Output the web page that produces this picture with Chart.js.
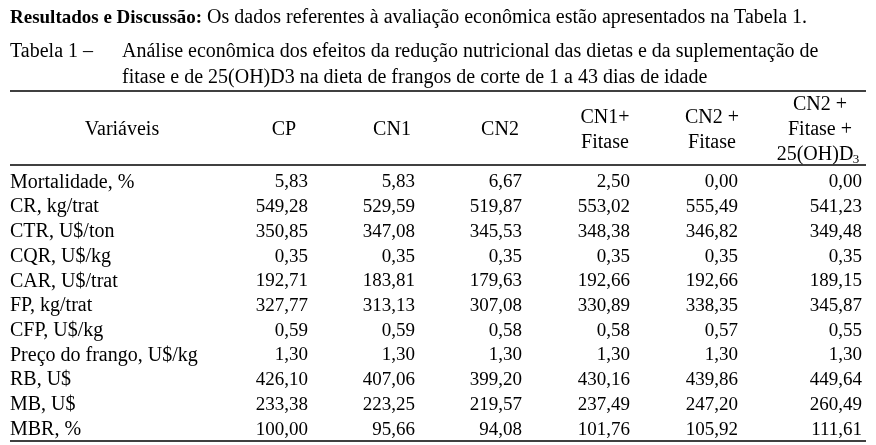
<!DOCTYPE html>
<html><head><meta charset="utf-8">
<script src="https://cdn.jsdelivr.net/npm/chart.js@4/dist/chart.umd.min.js"></script>
<style>body{margin:0;background:#fff}#wrap{width:876px;height:445px;position:relative}</style>
</head><body><div id="wrap"><canvas id="tableChart"></canvas></div>
<script>
const rowLabels = ["Mortalidade, %","CR, kg/trat","CTR, U$/ton","CQR, U$/kg","CAR, U$/trat","FP, kg/trat","CFP, U$/kg","Preço do frango, U$/kg","RB, U$","MB, U$","MBR, %"];
const colHeaders = [["CP"],["CN1"],["CN2"],["CN1+","Fitase"],["CN2 +","Fitase"],["CN2 +","Fitase +","25(OH)D3"]];
const CP  = ["5,83","549,28","350,85","0,35","192,71","327,77","0,59","1,30","426,10","233,38","100,00"];
const CN1 = ["5,83","529,59","347,08","0,35","183,81","313,13","0,59","1,30","407,06","223,25","95,66"];
const CN2 = ["6,67","519,87","345,53","0,35","179,63","307,08","0,58","1,30","399,20","219,57","94,08"];
const CN1F = ["2,50","553,02","348,38","0,35","192,66","330,89","0,58","1,30","430,16","237,49","101,76"];
const CN2F = ["0,00","555,49","346,82","0,35","192,66","338,35","0,57","1,30","439,86","247,20","105,92"];
const CN2FD = ["0,00","541,23","349,48","0,35","189,15","345,87","0,55","1,30","449,64","260,49","111,61"];
const series = [CP, CN1, CN2, CN1F, CN2F, CN2FD];

// layout (right edges of value columns and header centres, in px)
const colRight = [308, 415, 522, 630, 738, 862];
const colCenter = [284, 392, 500, 605, 712, 820];
const FONT = '20px "Liberation Serif", serif';
const NUMFONT = '19px "Liberation Serif", serif';

const tablePlugin = {
  id: "table",
  afterDraw(chart) {
    const ctx = chart.ctx, x = chart.scales.x, y = chart.scales.y;
    ctx.save();
    ctx.fillStyle = "#000";
    ctx.textBaseline = "middle";
    // caption
    ctx.font = 'bold 19px "Liberation Serif", serif';
    ctx.textAlign = "left";
    const bold = "Resultados e Discussão:";
    ctx.fillText(bold, 10, 18);
    const bw = ctx.measureText(bold).width;
    ctx.font = FONT;
    ctx.fillText(" Os dados referentes à avaliação econômica estão apresentados na Tabela 1.", 10 + bw, 18);
    ctx.fillText("Tabela 1 –", 10, 52);
    ctx.fillText("Análise econômica dos efeitos da redução nutricional das dietas e da suplementação de", 122, 52);
    ctx.fillText("fitase e de 25(OH)D3 na dieta de frangos de corte de 1 a 43 dias de idade", 122, 78);
    // rules
    ctx.strokeStyle = "#000";
    ctx.lineWidth = 1.5;
    [91, 165, 441].forEach(yy => { ctx.beginPath(); ctx.moveTo(x.getPixelForValue(10), yy); ctx.lineTo(x.getPixelForValue(866), yy); ctx.stroke(); });
    // header
    ctx.textAlign = "center";
    ctx.fillText("Variáveis", 122, 130);
    colHeaders.forEach((lines, i) => {
      const start = 130 - (lines.length - 1) * 12.5;
      lines.forEach((t, j) => {
        if (t === "25(OH)D3") {
          ctx.fillText("25(OH)D", colCenter[i] - 5, start + j * 25);
          ctx.font = '13px "Liberation Serif", serif';
          ctx.fillText("3", colCenter[i] + 36, start + j * 25 + 5);
          ctx.font = FONT;
        } else ctx.fillText(t, colCenter[i], start + j * 25);
      });
    });
    // rows
    rowLabels.forEach((lab, r) => {
      const py = y.getPixelForValue(r);
      ctx.textAlign = "left";
      ctx.font = FONT;
      ctx.fillText(lab, x.getPixelForValue(10), py);
      ctx.textAlign = "right";
      ctx.font = NUMFONT;
      series.forEach((s, c) => ctx.fillText(s[r], x.getPixelForValue(colRight[c]), py));
    });
    ctx.restore();
  }
};

new Chart(document.getElementById("tableChart"), {
  type: "scatter",
  data: { labels: rowLabels, datasets: [] },
  options: {
    responsive: true, maintainAspectRatio: false, animation: false,
    layout: { padding: { top: 170, bottom: 3, left: 0, right: 0 } },
    plugins: { legend: { display: false }, tooltip: { enabled: false } },
    scales: {
      x: { type: "linear", min: 0, max: 876, display: false },
      y: { type: "category", labels: rowLabels, offset: true, display: false }
    }
  },
  plugins: [tablePlugin]
});
</script></body></html>
